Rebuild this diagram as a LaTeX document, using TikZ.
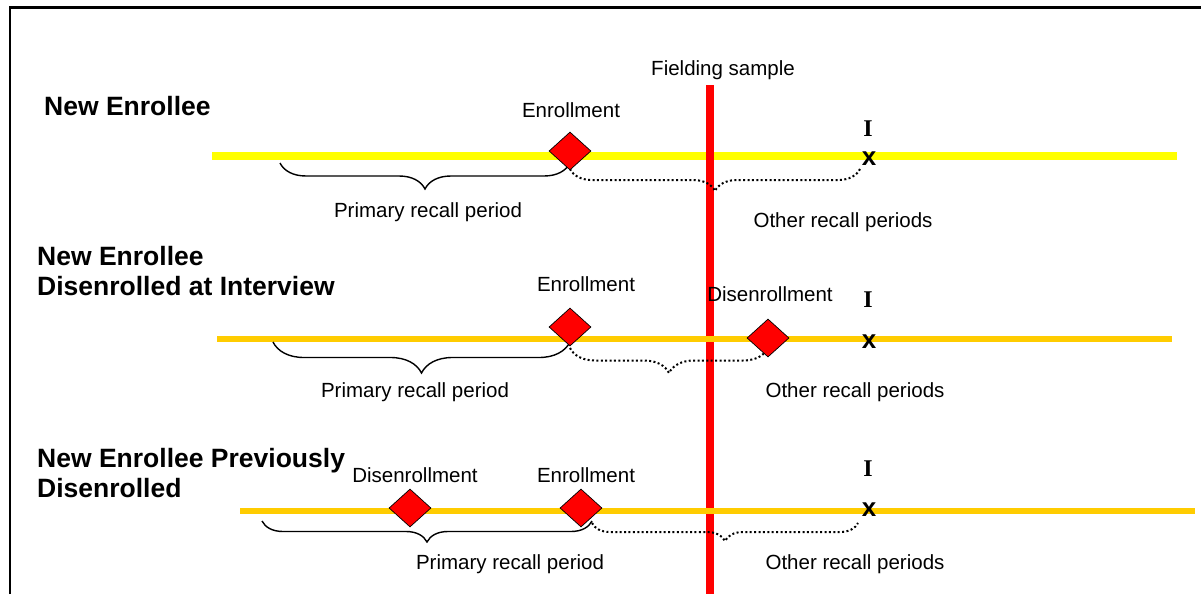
\documentclass[tikz,border=0pt]{standalone}
\usepackage{fontspec}
\setmainfont{Liberation Sans}
\newfontfamily\markfont{Liberation Serif}
\usetikzlibrary{shapes.geometric,decorations.pathreplacing,positioning}

\definecolor{lineyellow}{RGB}{255,255,0}
\definecolor{lineorange}{RGB}{255,204,0}

\pgfdeclarelayer{lines}
\pgfdeclarelayer{braces}
\pgfsetlayers{lines,braces,main}

\tikzset{
  event/.style={diamond, draw=black, fill=red, line width=0.7pt,
    minimum width=42pt, minimum height=38pt, inner sep=0pt},
  lbl/.style={font=\fontsize{20.5}{24}\selectfont, inner sep=0pt, anchor=base},
  rowtitle/.style={font=\fontsize{26.5}{29.5}\selectfont\bfseries, inner sep=0pt,
    anchor=base west, align=left},
  imark/.style={font=\markfont\fontsize{24}{28}\selectfont\bfseries, inner sep=0pt, anchor=base},
  xmark/.style={font=\fontsize{26}{30}\selectfont\bfseries, inner sep=0pt, anchor=base},
  primary/.style={decorate, decoration={brace, mirror, amplitude=#1}, line width=1.4pt},
  other/.style={decorate, decoration={brace, mirror, amplitude=#1}, line width=2pt,
    dash pattern=on 2pt off 2.4pt},
}

\begin{document}
\begin{tikzpicture}[x=1pt, y=-1pt]
  \useasboundingbox (0,0) rectangle (1201,594);
  % frame
  \draw[line width=2.5pt] (10,594) -- (10,7.5) -- (1201,7.5);

  % time lines
  \coordinate (l1a) at (212,156);
  \coordinate (l1b) at (1177,156);
  \coordinate (l2a) at (217,339);
  \coordinate (l2b) at (1172,339);
  \coordinate (l3a) at (240,510.5);
  \coordinate (l3b) at (1195,510.5);

  % fielding sample
  \node[lbl] (fs) at (723,75) {Fielding sample};
  \coordinate (fstop) at (709.5,85);
  \coordinate (fsbot) at (709.5,594);

  \begin{pgfonlayer}{lines}
    \draw[lineyellow, line width=8pt] (l1a) -- (l1b);
    \draw[red, line width=8pt] (fstop) -- (fsbot);
    \draw[lineorange, line width=6pt] (l2a) -- (l2b);
    \draw[lineorange, line width=6pt] (l3a) -- (l3b);
  \end{pgfonlayer}

  % row titles
  \node[rowtitle] (t1) at (44,115) {New Enrollee};
  \node[rowtitle] (t2) at (37,295) {New Enrollee\\Disenrolled at Interview};
  \node[rowtitle] (t3) at (37,497) {New Enrollee Previously\\Disenrolled};

  % events
  \node[event] (enr1) at (570,151) {};
  \node[event] (enr2) at (570,327) {};
  \node[event] (dis2) at (768,338) {};
  \node[event] (dis3) at (410,508) {};
  \node[event] (enr3) at (581,508) {};

  % interview marks
  \node[imark] (i1) at (868,136) {I};
  \node[xmark] (x1) at (869,165) {x};
  \node[imark] (i2) at (868,307) {I};
  \node[xmark] (x2) at (869,348) {x};
  \node[imark] (i3) at (868,476) {I};
  \node[xmark] (x3) at (869,516) {x};

  % braces
  \coordinate (ps1) at (280,163);
  \coordinate (oe1) at (860,169);
  \coordinate (ps2) at (273,342);
  \coordinate (oe2) at (768,348);
  \coordinate (ps3) at (262,521);
  \coordinate (pe3) at (592,521);
  \coordinate (oe3) at (858,523);
  \begin{pgfonlayer}{braces}
    \draw[primary=26] (ps1) -- (ps1 -| enr1);
    \draw[other=22] (oe1 -| enr1) -- (oe1);
    \draw[primary=31] (ps2) -- (ps2 -| enr2);
    \draw[other=25] (oe2 -| enr2) -- (oe2 -| dis2);
    \draw[primary=21] (ps3) -- (pe3);
    \draw[other=18] (oe3 -| pe3) -- (oe3);
  \end{pgfonlayer}

  % event labels
  \node[lbl] (enr1lbl) at (571,117) {Enrollment};
  \node[lbl] (enr2lbl) at (586,291) {Enrollment};
  \node[lbl] (dis2lbl) at (770,301) {Disenrollment};
  \node[lbl] (dis3lbl) at (415,482) {Disenrollment};
  \node[lbl] (enr3lbl) at (586,482) {Enrollment};

  % period labels
  \node[lbl] (p1) at (428,217) {Primary recall period};
  \node[lbl] (o1) at (843,227) {Other recall periods};
  \node[lbl] (p2) at (415,397) {Primary recall period};
  \node[lbl] (o2) at (855,397) {Other recall periods};
  \node[lbl] (p3) at (510,569) {Primary recall period};
  \node[lbl] (o3) at (855,569) {Other recall periods};
\end{tikzpicture}
\end{document}
